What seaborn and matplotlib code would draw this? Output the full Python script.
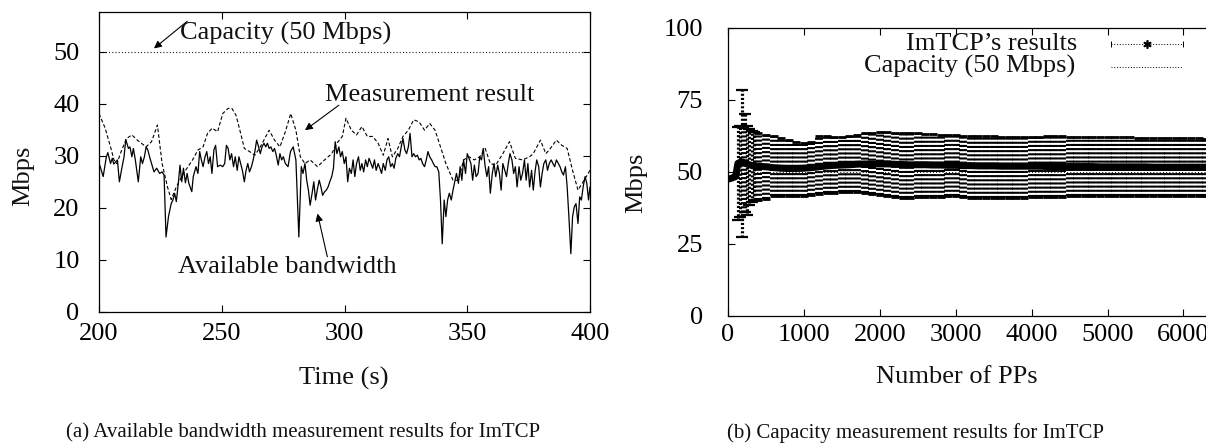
import matplotlib
matplotlib.use("Agg")
import matplotlib.pyplot as plt
import seaborn as sns

# ---------------- data: (a) available bandwidth ----------------
t_bw = [
    200.3, 201.7, 203.0, 203.6, 204.7, 205.4, 206.0, 207.5, 208.3, 209.3,
    210.2, 210.9, 212.0, 212.6, 213.4, 214.0, 214.8, 216.0, 217.0, 217.7,
    218.5, 219.2, 219.9, 220.6, 221.4, 222.4, 223.5, 224.7, 225.7, 226.5,
    227.3, 228.3, 229.4, 230.1, 230.8, 231.5, 232.3, 233.0, 233.7, 234.4,
    235.2, 235.9, 236.6, 237.8, 238.4, 239.5, 240.3, 241.0, 241.7, 242.4,
    243.2, 243.9, 244.6, 245.3, 246.0, 246.8, 247.5, 248.3, 249.4, 250.4,
    251.2, 251.9, 252.6, 253.3, 254.0, 254.8, 255.5, 256.3, 257.0, 257.7,
    258.4, 259.2, 259.9, 260.6, 261.3, 262.1, 262.8, 263.5, 264.2, 265.0,
    265.7, 266.4, 267.2, 267.9, 268.6, 269.3, 270.0, 270.8, 271.5, 272.2,
    273.0, 273.7, 274.4, 275.1, 275.9, 277.0, 278.0, 279.1, 280.2, 281.4,
    282.4, 283.1, 283.9, 284.6, 285.3, 286.0, 286.8, 287.5, 288.2, 289.0,
    289.7, 290.4, 291.1, 291.9, 292.6, 293.3, 294.0, 294.8, 295.5, 296.2,
    296.9, 297.7, 298.4, 299.1, 299.9, 300.6, 301.3, 302.0, 302.8, 303.5,
    304.2, 304.9, 305.7, 306.4, 307.1, 307.8, 308.6, 309.3, 310.0, 310.8,
    311.5, 312.2, 312.9, 313.7, 314.4, 315.1, 315.8, 316.6, 317.3, 318.0,
    318.8, 319.5, 320.2, 320.9, 321.7, 322.4, 323.1, 323.8, 324.6, 325.3,
    326.0, 326.7, 327.5, 328.2, 328.9, 329.7, 330.4, 331.1, 331.8, 332.6,
    333.3, 334.0, 334.7, 335.5, 336.2, 336.9, 337.6, 338.4, 339.1, 339.8,
    340.6, 341.3, 342.0, 342.7, 343.5, 344.2, 344.9, 345.6, 346.4, 347.1,
    347.8, 348.5, 349.3, 350.0, 350.7, 351.5, 352.2, 352.9, 353.6, 354.4,
    355.1, 355.8, 356.5, 357.3, 358.0, 358.7, 359.4, 360.2, 360.9, 361.6,
    362.4, 363.1, 363.8, 364.5, 365.3, 366.0, 366.7, 367.4, 368.2, 368.9,
    369.6, 370.3, 371.1, 371.8, 372.5, 373.3, 374.0, 374.7, 375.4, 376.2,
    376.9, 377.6, 378.3, 379.1, 379.8, 380.5, 381.2, 382.0, 382.7, 383.4,
    384.2, 384.9, 385.6, 386.3, 387.1, 387.8, 388.5, 389.2, 390.0, 390.7,
    391.4, 392.2, 392.9, 393.6, 394.3, 395.1, 395.8, 396.5, 397.2, 398.0,
    398.7, 399.4, 400.0,
]
avail_bw = [
    28.2, 26.0, 29.8, 30.6, 28.5, 29.5, 28.4, 29.2, 25.0, 27.6,
    29.8, 33.1, 31.4, 31.7, 29.8, 31.4, 29.2, 25.0, 29.8, 28.5,
    29.8, 31.7, 31.1, 29.8, 28.5, 26.9, 27.6, 26.6, 26.9, 26.3,
    14.4, 18.3, 20.8, 21.5, 22.8, 21.2, 24.7, 28.2, 25.0, 27.6,
    24.8, 26.6, 24.7, 23.1, 26.0, 27.9, 26.6, 30.8, 29.2, 27.9,
    29.8, 30.8, 28.5, 29.8, 26.6, 31.1, 32.0, 27.9, 28.2, 27.9,
    28.5, 32.0, 31.4, 29.2, 30.4, 27.9, 29.8, 27.2, 29.8, 28.5,
    27.2, 25.0, 27.2, 28.5, 26.9, 27.9, 29.2, 30.8, 33.0, 31.7,
    30.4, 31.7, 32.4, 31.7, 32.4, 31.4, 31.7, 30.8, 31.4, 30.1,
    28.2, 30.4, 29.2, 29.8, 28.5, 27.9, 30.8, 31.7, 29.2, 14.4,
    27.9, 26.6, 28.5, 25.3, 23.4, 20.5, 22.8, 25.0, 21.5, 23.7,
    25.3, 24.0, 22.4, 23.1, 23.4, 24.0, 25.0, 26.0, 27.6, 32.7,
    30.4, 31.7, 29.8, 30.8, 28.5, 29.8, 25.0, 27.6, 26.6, 29.2,
    26.0, 28.5, 29.8, 27.2, 28.5, 26.9, 29.2, 27.9, 29.5, 28.5,
    27.6, 29.2, 27.2, 28.5, 27.6, 26.6, 28.5, 27.2, 29.2, 29.8,
    27.9, 28.5, 27.6, 29.5, 30.4, 29.8, 31.7, 33.3, 31.1, 30.4,
    31.7, 34.3, 29.8, 30.4, 29.8, 30.1, 29.2, 29.5, 28.5, 27.9,
    29.2, 30.8, 29.8, 29.2, 28.5, 27.9, 27.9, 26.9, 21.5, 13.1,
    21.5, 18.3, 21.5, 22.8, 21.5, 23.4, 25.0, 26.6, 24.7, 27.9,
    25.3, 29.2, 26.6, 30.4, 29.5, 28.5, 25.3, 28.2, 26.0, 26.6,
    29.8, 29.2, 31.4, 27.9, 26.0, 27.9, 22.8, 26.6, 28.5, 26.0,
    28.2, 26.6, 23.4, 28.5, 27.2, 26.0, 28.5, 30.4, 29.2, 26.6,
    27.9, 24.0, 27.9, 25.3, 26.6, 29.2, 25.3, 28.5, 24.0, 27.2,
    23.4, 26.9, 29.2, 27.9, 24.0, 26.6, 28.5, 29.2, 27.2, 28.5,
    29.2, 28.5, 27.9, 29.2, 28.5, 27.9, 26.9, 26.3, 27.9, 24.0,
    18.3, 11.2, 18.3, 20.2, 20.8, 17.0, 22.1, 21.5, 24.0, 26.0,
    24.7, 21.5, 24.0,
]
t_meas = [
    200.0, 202.5, 204.7, 206.1, 207.3, 209.0, 211.2, 213.4, 215.6, 219.2,
    221.4, 223.8, 225.7, 227.9, 229.4, 231.5, 234.4, 238.1, 240.3, 242.4,
    244.2, 246.1, 248.3, 250.4, 252.6, 254.1, 255.8, 257.7, 259.2, 261.3,
    263.5, 265.7, 269.3, 271.5, 273.7, 275.9, 278.1, 280.2, 282.0, 283.9,
    286.0, 289.0, 291.9, 294.8, 296.9, 299.1, 300.6, 302.8, 304.9, 307.1,
    309.3, 311.5, 313.7, 315.8, 317.7, 319.5, 321.7, 323.8, 326.0, 328.2,
    330.4, 332.6, 334.7, 336.9, 339.1, 341.3, 344.2, 346.4, 348.5, 350.7,
    352.9, 355.1, 357.3, 359.4, 361.6, 364.5, 367.2, 369.6, 372.5, 375.4,
    376.9, 379.8, 382.0, 383.4, 386.3, 388.5, 390.7, 392.9, 395.1, 397.2,
    400.0,
]
meas_result = [
    38.1, 35.3, 31.7, 29.2, 28.5, 30.8, 33.3, 34.0, 33.0, 31.7,
    32.7, 35.9, 28.5, 24.0, 21.6, 24.0, 26.6, 29.2, 31.1, 31.7,
    34.3, 35.3, 34.6, 38.1, 39.1, 39.1, 37.8, 34.3, 31.4, 30.8,
    30.1, 31.7, 34.9, 33.0, 31.7, 34.6, 38.1, 34.9, 29.8, 28.5,
    29.2, 27.9, 29.2, 30.4, 32.4, 33.7, 37.2, 34.9, 34.0, 35.6,
    33.7, 33.7, 32.4, 30.1, 33.3, 29.8, 31.4, 33.7, 34.9, 36.9,
    36.5, 34.9, 36.2, 34.9, 31.7, 28.5, 25.3, 25.3, 29.2, 29.8,
    29.2, 29.8, 31.4, 28.5, 28.2, 30.4, 32.7, 29.5, 29.2, 29.8,
    30.4, 33.0, 30.4, 31.1, 33.0, 32.0, 31.4, 27.2, 23.4, 25.0,
    27.2,
]
capacity_mbps = 50

# ---------------- data: (b) capacity measurement ----------------
pp_start = [20, 60, 100]
mean_start = [47.6, 48.0, 48.4]

pp_early = [130, 160, 190, 220, 250, 280, 310, 340]
mean_early = [53.0, 53.4, 53.5, 53.2, 52.8, 52.5, 52.3, 52.1]
low_early = [33.2, 34.5, 27.5, 36.0, 35.0, 38.5, 39.5, 40.2]
up_early = [65.5, 66.0, 78.5, 70.0, 66.0, 64.8, 64.2, 63.8]

pp_n = [
    400, 500, 600, 700, 800, 900, 1000, 1100, 1200, 1300,
    1400, 1500, 1600, 1700, 1800, 1900, 2000, 2100, 2200, 2300,
    2400, 2500, 2600, 2700, 2800, 2900, 3000, 3100, 3200, 3300,
    3400, 3500, 3600, 3700, 3800, 3900, 4000, 4100, 4200, 4300,
    4400, 4500, 4600, 4700, 4800, 4900, 5000, 5100, 5200, 5300,
    5400, 5500, 5600, 5700, 5800, 5900, 6000, 6100, 6200, 6300,
]
pp_mean = [
    52.0, 51.8, 51.5, 51.3, 51.2, 51.2, 51.3, 51.5, 51.8, 52.1,
    52.3, 52.4, 52.5, 52.7, 52.8, 52.8, 52.8, 52.8, 52.7, 52.6,
    52.5, 52.5, 52.5, 52.4, 52.4, 52.3, 52.3, 52.2, 52.2, 52.1,
    52.1, 52.1, 52.0, 52.0, 52.0, 52.0, 52.0, 52.0, 51.9, 51.9,
    51.9, 51.9, 51.9, 51.9, 51.9, 51.8, 51.8, 51.8, 51.8, 51.8,
    51.8, 51.8, 51.7, 51.7, 51.7, 51.7, 51.7, 51.7, 51.7, 51.7,
]
pp_low = [
    40.4, 40.6, 41.5, 41.8, 41.7, 41.5, 41.6, 41.9, 42.3, 42.6,
    42.8, 42.9, 43.0, 42.9, 42.7, 42.3, 41.9, 41.5, 41.2, 41.0,
    41.0, 41.2, 41.3, 41.4, 41.4, 41.5, 41.5, 41.3, 41.1, 40.9,
    40.8, 40.8, 40.8, 40.9, 41.0, 41.1, 41.2, 41.3, 41.3, 41.4,
    41.4, 41.5, 41.5, 41.5, 41.5, 41.5, 41.5, 41.5, 41.5, 41.5,
    41.6, 41.6, 41.6, 41.6, 41.6, 41.6, 41.6, 41.6, 41.6, 41.6,
]
pp_up = [
    63.4, 63.0, 62.4, 61.8, 61.0, 60.4, 60.1, 60.3, 62.6, 62.4,
    62.3, 62.3, 62.6, 63.0, 63.5, 63.6, 63.8, 63.9, 63.7, 63.5,
    63.5, 63.4, 63.3, 63.1, 63.0, 62.9, 62.7, 62.6, 62.5, 62.5,
    62.4, 62.4, 62.3, 62.3, 62.3, 62.3, 62.3, 62.3, 62.4, 62.4,
    62.4, 62.3, 62.3, 62.2, 62.2, 62.1, 62.1, 62.1, 62.0, 62.0,
    61.9, 61.9, 61.9, 61.8, 61.8, 61.8, 61.7, 61.7, 61.7, 61.6,
]

left_xticks = [200, 250, 300, 350, 400]
left_yticks = [0, 10, 20, 30, 40, 50]
right_xticks = [0, 1000, 2000, 3000, 4000, 5000, 6000]
right_yticks = [0, 25, 50, 75, 100]

# ---------------- style ----------------
sns.set_theme(style="ticks")
plt.rcParams["font.family"] = ["Liberation Serif", "DejaVu Serif"]
plt.rcParams["lines.scale_dashes"] = False
plt.rcParams["axes.linewidth"] = 0.9
plt.rcParams["axes.edgecolor"] = "black"
plt.rcParams["text.color"] = "#111111"
plt.rcParams["xtick.color"] = "black"
plt.rcParams["ytick.color"] = "black"

FS = 19
W, H = 1206, 443
fig = plt.figure(figsize=(W / 100, H / 100), dpi=100)

# ---------------- (a) ----------------
ax1 = fig.add_axes([99 / W, (H - 312) / H, 491 / W, 299.5 / H])
ax1.set_xlim(200, 400)
ax1.set_ylim(0, 57.5)

ax1.plot([200, 400], [capacity_mbps, capacity_mbps], color="black",
         lw=0.8, linestyle=(0, (0.7, 1.6)))
sns.lineplot(x=t_bw, y=avail_bw, ax=ax1, color="black", linewidth=0.9,
             estimator=None, sort=False)
sns.lineplot(x=t_meas, y=meas_result, ax=ax1, color="black", linewidth=0.8,
             estimator=None, sort=False)
ax1.lines[-1].set_linestyle((0, (2.6, 1.6)))

arrow = dict(arrowstyle="-|>", color="black", lw=0.8, mutation_scale=11,
             shrinkA=0, shrinkB=0)
ax1.annotate("", xy=(222.4, 50.6), xytext=(235.9, 55.8), arrowprops=arrow)
ax1.text(233.0, 53.5, "Capacity (50 Mbps)", fontsize=FS, ha="left", va="center")
ax1.annotate("", xy=(283.9, 34.9), xytext=(297.7, 39.7), arrowprops=arrow)
ax1.text(291.9, 41.7, "Measurement result", fontsize=FS, ha="left", va="center")
ax1.annotate("", xy=(289.0, 18.9), xytext=(293.0, 10.6), arrowprops=arrow)
ax1.text(232.3, 8.7, "Available bandwidth", fontsize=FS, ha="left", va="center")

ax1.set_xticks(left_xticks)
ax1.set_yticks(left_yticks)
ax1.set_xticklabels([str(v) for v in left_xticks])
ax1.set_yticklabels([str(v) for v in left_yticks])
ax1.tick_params(direction="in", length=5, width=0.8, top=True, right=True,
                labelsize=FS)
ax1.tick_params(axis="x", pad=8)
ax1.tick_params(axis="y", pad=14)
ax1.set_xlabel("")
ax1.set_ylabel("")
for s in ax1.spines.values():
    s.set_visible(True)

# ---------------- (b) ----------------
ax2 = fig.add_axes([728 / W, (H - 316) / H, 482 / W, 288 / H])
ax2.set_xlim(0, 6350)
ax2.set_ylim(0, 100)

dots = (0, (1.5, 1.5))
yerr_e = [[m - l for m, l in zip(mean_early, low_early)],
          [u - m for m, u in zip(mean_early, up_early)]]
eb1 = ax2.errorbar(pp_early, mean_early, yerr=yerr_e, fmt="none",
                   ecolor="black", elinewidth=2.3, capsize=4, capthick=1.6)
eb1[2][0].set_linestyle(dots)

yerr = [[m - l for m, l in zip(pp_mean, pp_low)],
        [u - m for m, u in zip(pp_mean, pp_up)]]
eb2 = ax2.errorbar(pp_n, pp_mean, yerr=yerr, fmt="none", ecolor="black",
                   elinewidth=5.7, capsize=2.9, capthick=2.0)
eb2[2][0].set_linestyle(dots)

sns.lineplot(x=pp_start + pp_early + pp_n, y=mean_start + mean_early + pp_mean,
             ax=ax2, color="black", linewidth=5.0, estimator=None, sort=False)
ax2.plot([0, 6350], [capacity_mbps, capacity_mbps], color="black", lw=0.7,
         linestyle=(0, (0.7, 1.6)), zorder=5)

# legend (gnuplot style, key at top right)
ax2.text(0.724, 0.943, "ImTCP\u2019s results", transform=ax2.transAxes,
         fontsize=FS, ha="right", va="center")
ax2.text(0.720, 0.866, "Capacity (50 Mbps)", transform=ax2.transAxes,
         fontsize=FS, ha="right", va="center")
ax2.plot([0.795, 0.944], [0.943, 0.943], transform=ax2.transAxes,
         color="black", lw=0.7, linestyle=(0, (0.7, 1.3)), clip_on=False)
ax2.plot([0.795, 0.944], [0.943, 0.943], transform=ax2.transAxes,
         color="black", lw=0, marker="|", markersize=4, mew=0.7, clip_on=False)
ax2.plot([0.8695], [0.943], transform=ax2.transAxes, color="black", lw=0,
         marker=(6, 2, 0), markersize=6, mew=1.2, clip_on=False)
ax2.plot([0.795, 0.944], [0.866, 0.866], transform=ax2.transAxes,
         color="black", lw=0.7, linestyle=(0, (0.7, 1.3)), clip_on=False)

ax2.set_xticks(right_xticks)
ax2.set_yticks(right_yticks)
ax2.set_xticklabels([str(v) for v in right_xticks])
ax2.set_yticklabels([str(v) for v in right_yticks])
ax2.tick_params(direction="in", length=5, width=0.8, top=True, right=False,
                labelsize=FS)
ax2.tick_params(axis="x", pad=6)
ax2.tick_params(axis="y", pad=18)
ax2.set_xlabel("")
ax2.set_ylabel("")
for k, s in ax2.spines.items():
    s.set_visible(k != "right")

# ---------------- axis labels & captions ----------------
fig.text(23 / W, 1 - 176 / H, "Mbps", rotation=90, fontsize=FS,
         ha="center", va="center")
fig.text(344 / W, 1 - 378 / H, "Time (s)", fontsize=FS, ha="center", va="center")
fig.text(636 / W, 1 - 183 / H, "Mbps", rotation=90, fontsize=FS,
         ha="center", va="center")
fig.text(957 / W, 1 - 377 / H, "Number of PPs", fontsize=FS,
         ha="center", va="center")
fig.text(66 / W, 1 - 433 / H, "(a) Available bandwidth measurement results for ImTCP",
         fontsize=15, ha="left", va="center")
fig.text(727 / W, 1 - 433 / H, "(b) Capacity measurement results for ImTCP",
         fontsize=15, ha="left", va="center")

fig.savefig("out.png", dpi=100)
